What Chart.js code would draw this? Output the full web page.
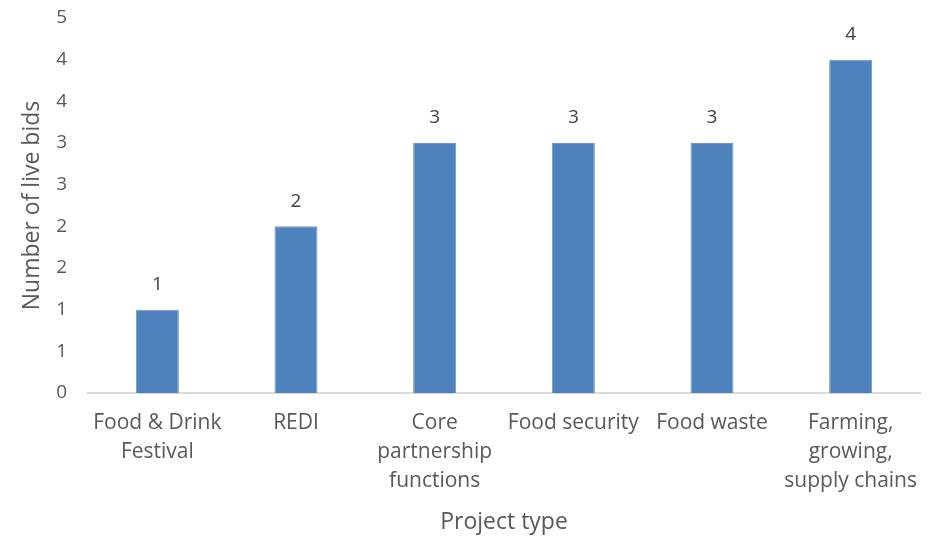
<!DOCTYPE html>
<html>
<head>
<meta charset="utf-8">
<script src="https://cdn.jsdelivr.net/npm/chart.js@4"></script>
<style>
  html, body { margin: 0; padding: 0; background: #fff; }
  #bids-chart { display: block; }
</style>
</head>
<body>
<canvas id="bids-chart" width="935" height="536"></canvas>
<script>
let projectTypes = [
  ["Food & Drink", "Festival"],
  "REDI",
  ["Core", "partnership", "functions"],
  "Food security",
  "Food waste",
  ["Farming,", "growing,", "supply chains"],
];
let liveBids = [1, 2, 3, 3, 3, 4];

let fontFamily = "'Open Sans', 'Liberation Sans', sans-serif";
let textColor = "#595959";

// value labels above each bar
let barLabels = {
  id: "barLabels",
  afterDatasetsDraw(chart) {
    let ctx = chart.ctx;
    let meta = chart.getDatasetMeta(0);
    ctx.save();
    ctx.font = "19px " + fontFamily;
    ctx.fillStyle = "#404040";
    ctx.textAlign = "center";
    ctx.textBaseline = "middle";
    meta.data.forEach((bar, i) => {
      ctx.fillText(liveBids[i], bar.x, bar.y - 25);
    });
    ctx.restore();
  },
};

let ctx = document.getElementById("bids-chart").getContext("2d");
let chart = new Chart(ctx, {
  type: "bar",
  data: {
    labels: projectTypes,
    datasets: [
      {
        data: liveBids,
        backgroundColor: "#4f81bd",
        borderColor: "#6f9ad0",
        borderWidth: 1,
        categoryPercentage: 1,
        barPercentage: 0.31,
      },
    ],
  },
  options: {
    responsive: false,
    animation: false,
    layout: {
      padding: { top: 18, right: 15, bottom: 0, left: 0 },
    },
    plugins: {
      legend: { display: false },
      tooltip: { enabled: false },
    },
    scales: {
      x: {
        grid: { display: false, drawTicks: false },
        border: { color: "#d9d9d9", width: 2 },
        ticks: {
          color: textColor,
          font: { family: fontFamily, size: 21, lineHeight: 1.4 },
          padding: 15,
          maxRotation: 0,
          autoSkip: false,
        },
        title: {
          display: true,
          text: "Project type",
          color: textColor,
          font: { family: fontFamily, size: 23 },
          padding: { top: 0, bottom: 0 },
        },
        afterFit: (scale) => {
          scale.height = 143;
          scale.paddingLeft = 0;
          scale.paddingRight = 0;
        },
      },
      y: {
        min: 0,
        max: 4.5,
        grid: { display: false, drawTicks: false },
        border: { display: false },
        ticks: {
          stepSize: 0.5,
          color: textColor,
          font: { family: fontFamily, size: 19 },
          padding: 21,
          callback: (value) => Math.round(value),
        },
        title: {
          display: true,
          text: "Number of live bids",
          color: textColor,
          font: { family: fontFamily, size: 23 },
          padding: { top: 19, bottom: 0 },
        },
        afterFit: (scale) => {
          scale.width = 88;
          scale.paddingTop = 0;
          scale.paddingBottom = 0;
        },
      },
    },
  },
  plugins: [barLabels],
});
</script>
</body>
</html>
